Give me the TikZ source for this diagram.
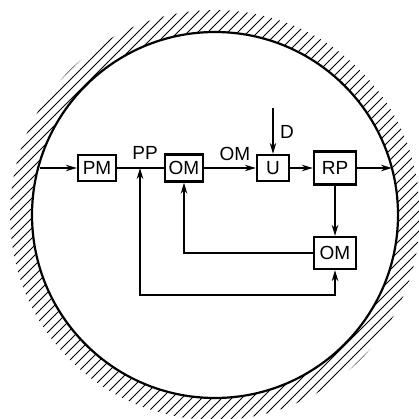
\documentclass[tikz,border=0pt]{standalone}
\usepackage{fontspec}
\setmainfont{Liberation Sans}
\usetikzlibrary{arrows.meta}
\begin{document}
\begin{tikzpicture}[x=1pt, y=-1pt]
\tikzset{
    >={Stealth[length=11pt, width=6.5pt]},
    fluxo/.style={line width=1.7pt},
    bloco/.style={rectangle, line width=2.3pt, draw=black, inner sep=0pt,
                  font=\fontsize{19}{21}\selectfont},
    rotulo/.style={inner sep=0pt, font=\fontsize{19}{21}\selectfont},
    hachura/.style={line width=1pt}
}
\useasboundingbox (0,0) rectangle (418,419);
% Parede hachurada em volta do circulo
\begin{scope}[even odd rule]
  \clip (215,215) circle[radius=205] (215,215) circle[radius=183];
  \foreach \c in {0,10,...,850}
    \draw[hachura] (\c+10,-10) -- (\c-430,430);
\end{scope}
\draw[line width=2.2pt] (215,215) circle[radius=183];
% Blocos
\node[bloco, minimum width=38pt, minimum height=26pt] (pm)  at (97,168)  {PM};
\node[bloco, minimum width=38pt, minimum height=27pt] (om1) at (184,168) {OM};
\node[bloco, minimum width=32pt, minimum height=26pt] (u)   at (273,168) {U};
\node[bloco, minimum width=42pt, minimum height=33pt] (rp)  at (335,168) {RP};
\node[bloco, minimum width=42pt, minimum height=32pt] (om2) at (335,253) {OM};
\coordinate (ent) at (40,168);
\coordinate (sai) at (392,168);
\coordinate (jn)  at (140,168);
\coordinate (lo)  at (140,295);
\coordinate (dd)  at (273,108);
% Linha principal
\draw[fluxo, ->] (ent) -- (pm);
\draw[fluxo] (pm) -- (om1);
\draw[fluxo, ->] (om1) -- (u);
\draw[fluxo, ->] (u) -- (rp);
\draw[fluxo, ->] (rp) -- (sai);
\draw[fluxo, ->] (dd) -- (u);
% Realimentacoes
\draw[fluxo, ->] (rp) -- (om2);
\draw[fluxo, ->] (om2.west) -| (om1.south);
\draw[fluxo, <->] (jn) -- (lo) -| (om2.south);
% Rotulos
\node[rotulo] (lpp) at (145,153) {PP};
\node[rotulo] (lom) at (235,154) {OM};
\node[rotulo] (ld)  at (287,132) {D};
\end{tikzpicture}
\end{document}
